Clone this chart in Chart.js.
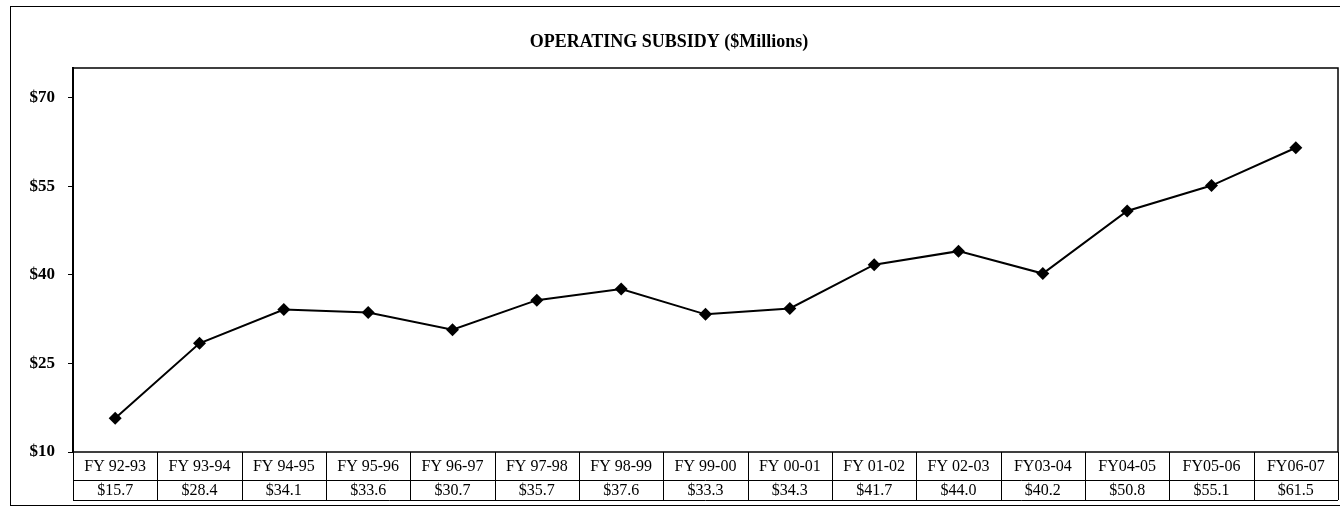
<!DOCTYPE html>
<html>
<head>
<meta charset="utf-8">
<script src="https://cdn.jsdelivr.net/npm/chart.js@4/dist/chart.umd.min.js"></script>
<style>
  body { margin: 0; background: #fff; }
  canvas { display: block; }
</style>
</head>
<body>
<canvas id="myChart" width="1340" height="514"></canvas>
<script>
const fiscalYears = ['FY 92-93', 'FY 93-94', 'FY 94-95', 'FY 95-96', 'FY 96-97', 'FY 97-98', 'FY 98-99',
  'FY 99-00', 'FY 00-01', 'FY 01-02', 'FY 02-03', 'FY03-04', 'FY04-05', 'FY05-06', 'FY06-07'];
const subsidy = [15.7, 28.4, 34.1, 33.6, 30.7, 35.7, 37.6, 33.3, 34.3, 41.7, 44.0, 40.2, 50.8, 55.1, 61.5];
const yTicks = [10, 25, 40, 55, 70];

const serif = "'Liberation Serif', 'Times New Roman', serif";

// draws the frame, the plot box and the data table under the x axis
const tablePlugin = {
  id: 'dataTable',
  beforeDatasetsDraw(chart) {
    const ctx = chart.ctx;
    const a = chart.chartArea;
    ctx.save();
    ctx.strokeStyle = '#000';
    ctx.lineWidth = 1;
    ctx.strokeRect(10.5, 6.5, 1330, 499);
    ctx.lineWidth = 1.5;
    ctx.strokeRect(a.left, a.top, a.right - a.left, a.bottom - a.top);
    ctx.restore();
  },
  afterDraw(chart) {
    const ctx = chart.ctx;
    const a = chart.chartArea;
    const x = chart.scales.x;
    const half = (x.getPixelForValue(1) - x.getPixelForValue(0)) / 2;
    const row1 = a.bottom, row2 = a.bottom + 28, row3 = a.bottom + 48;
    ctx.save();
    ctx.strokeStyle = '#000';
    ctx.lineWidth = 1;
    ctx.beginPath();
    ctx.moveTo(a.left, row2 + 0.5); ctx.lineTo(a.right, row2 + 0.5);
    ctx.moveTo(a.left, row3 + 0.5); ctx.lineTo(a.right, row3 + 0.5);
    for (let i = 0; i <= fiscalYears.length; i++) {
      const bx = Math.round(x.getPixelForValue(i) - half) + 0.5;
      ctx.moveTo(bx, row1); ctx.lineTo(bx, row3);
    }
    ctx.stroke();
    ctx.fillStyle = '#000';
    ctx.textAlign = 'center';
    ctx.textBaseline = 'middle';
    ctx.font = '16px ' + serif;
    fiscalYears.forEach((fy, i) => {
      const cx = x.getPixelForValue(i);
      ctx.fillText(fy, cx, (row1 + row2) / 2 + 1);
      ctx.fillText('$' + subsidy[i].toFixed(1), cx, (row2 + row3) / 2 + 1);
    });
    ctx.restore();
  }
};

const ctx = document.getElementById('myChart').getContext('2d');
const myChart = new Chart(ctx, {
  type: 'line',
  data: {
    labels: fiscalYears,
    datasets: [{
      data: subsidy,
      borderColor: '#000',
      borderWidth: 2,
      pointStyle: 'rectRot',
      pointRadius: 6.5,
      pointBackgroundColor: '#000',
      pointBorderColor: '#000',
      pointBorderWidth: 0,
      tension: 0
    }]
  },
  options: {
    responsive: false,
    animation: false,
    devicePixelRatio: 1,
    layout: { autoPadding: false, padding: { left: 0, right: 2, top: 0, bottom: 0 } },
    plugins: {
      legend: { display: false },
      tooltip: { enabled: false },
      title: {
        display: true,
        text: 'OPERATING SUBSIDY ($Millions)',
        color: '#000',
        font: { family: serif, size: 18, weight: 'bold' },
        padding: { top: 32, bottom: 14.4 }
      }
    },
    scales: {
      x: {
        offset: true,
        ticks: { display: false },
        grid: { display: false },
        border: { display: false },
        afterFit(scale) { scale.height = 62; }
      },
      y: {
        min: 10,
        max: 75,
        afterBuildTicks(scale) { scale.ticks = yTicks.map(v => ({ value: v })); },
        ticks: {
          color: '#000',
          padding: 13,
          font: { family: serif, size: 17, weight: 'bold' },
          callback: v => '$' + v
        },
        grid: { drawOnChartArea: false, color: '#000', tickLength: 5 },
        border: { color: '#000', width: 2 },
        afterFit(scale) { scale.width = 73; }
      }
    }
  },
  plugins: [tablePlugin]
});
</script>
</body>
</html>
